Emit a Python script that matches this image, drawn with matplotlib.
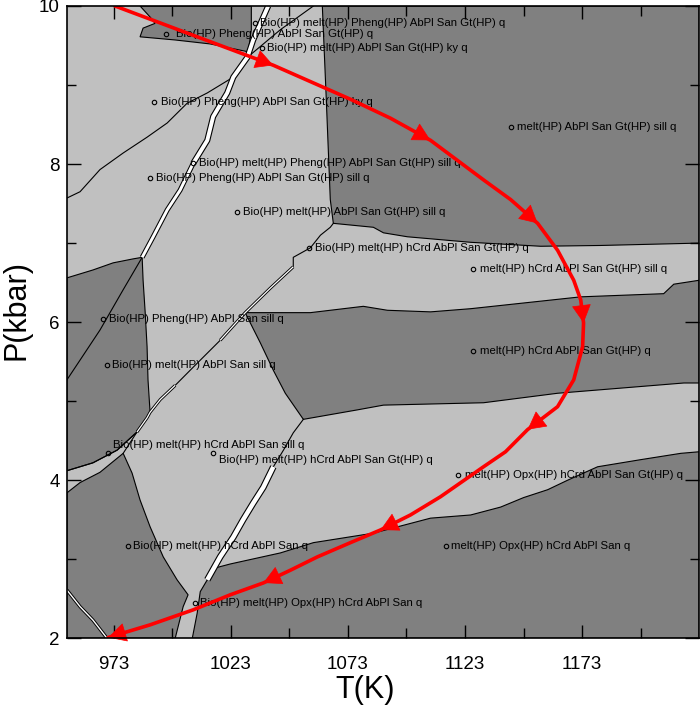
import matplotlib
matplotlib.use("Agg")
import matplotlib.pyplot as plt
from matplotlib.ticker import FixedLocator, NullFormatter

plt.rcParams['font.family'] = ['Liberation Sans', 'DejaVu Sans']

# ---------------- data (T in K, P in kbar) ----------------
T_range = (953, 1223)
P_range = (2, 10)
x_major = [973, 1023, 1073, 1123, 1173]
x_minor = [998, 1048, 1098, 1148, 1198]
y_major = [2, 4, 6, 8, 10]
y_minor = [3, 5, 7, 9]

# dark fields
d1_T = [984.3, 988.6, 990.7, 985.6, 984.3, 999.3, 1014.2, 1030.5, 1031.8, 1031.8]
d1_P = [10.0, 9.86, 9.78, 9.72, 9.61, 9.57, 9.52, 9.42, 9.70, 10.0]

d2_T = [1062.1, 1223, 1223, 1180.9, 1155.3, 1125.4, 1098.4, 1088.2, 1083.9, 1066.8, 1065.5, 1063.8]
d2_P = [10.0, 10.0, 7.00, 6.97, 6.96, 7.01, 7.08, 7.13, 7.20, 7.25, 7.55, 8.81]

d3_T = [1029.2, 1057.0, 1079.6, 1089.9, 1108.3, 1125.4, 1172.4, 1207.8, 1212.1, 1223,
        1223, 1216.4, 1162.5, 1130.9, 1088.2, 1077.1, 1054.0, 1046.3, 1041.2, 1035.6, 1032.2]
d3_P = [6.12, 6.12, 6.20, 6.15, 6.13, 6.17, 6.32, 6.36, 6.48, 6.53,
        5.23, 5.23, 5.10, 4.98, 4.95, 4.89, 4.77, 5.10, 5.39, 5.74, 5.94]

d4_T = [1006.6, 1223, 1223, 1215.1, 1198.0, 1179.6, 1166.8, 1158.3, 1148.0, 1138.2,
        1125.4, 1108.3, 1083.9, 1058.3, 1044.2, 1022.8, 1016.4, 1013.0, 1010.0, 1008.7]
d4_P = [2.0, 2.0, 4.36, 4.34, 4.26, 4.17, 4.00, 3.88, 3.78, 3.66,
        3.56, 3.52, 3.33, 3.21, 3.08, 2.94, 2.89, 2.74, 2.59, 2.32]

d5_T = [953.1, 958.7, 967.2, 977.1, 980.9, 984.3, 988.6, 994.2, 1000.1, 1004.8, 1002.7, 999.3, 953]
d5_P = [3.84, 3.97, 4.10, 4.34, 4.09, 3.75, 3.41, 3.03, 2.74, 2.55, 2.40, 2.0, 2.0]

d6_T = [953.1, 964.2, 972.8, 981.3, 985.2, 985.6, 986.5, 987.3, 987.7, 988.6, 987.3, 983.0, 974.5, 964.2, 953.1]
d6_P = [6.56, 6.66, 6.75, 6.80, 6.82, 6.53, 6.12, 5.69, 5.27, 4.85, 4.79, 4.61, 4.38, 4.22, 4.12]

# boundary lines
lineA_up_T = [1039.0, 1032.6, 1030.1, 1024.1, 1021.5, 1015.5, 1013.0, 1007.0, 1001.4, 995.9, 989.9, 985.2]
lineA_up_P = [10.0, 9.57, 9.35, 9.10, 8.90, 8.60, 8.30, 8.01, 7.67, 7.42, 7.08, 6.82]
lineA_lo_T = [985.2, 977.1, 967.2, 958.7, 953.1]
lineA_lo_P = [6.82, 6.41, 5.90, 5.52, 5.27]

kysill_T = [953.1, 958.7, 967.2, 977.1, 987.3, 995.9, 1004.4, 1013.0, 1024.1]
kysill_P = [7.57, 7.65, 7.93, 8.14, 8.34, 8.52, 8.77, 8.90, 9.10]

top_T = [1031.3, 1044.2, 1058.3]
top_P = [9.38, 9.70, 10.0]

lineB_T = [1066.8, 1065.5, 1061.3, 1057.0, 1049.7, 1049.7, 1039.9, 1029.2, 1018.5, 1007.0,
           999.3, 992.9, 988.6, 987.3, 983.0, 974.5, 964.2, 953.1]
lineB_P = [7.25, 7.20, 7.10, 6.94, 6.82, 6.70, 6.43, 6.12, 5.77, 5.43,
           5.20, 5.02, 4.86, 4.79, 4.61, 4.38, 4.22, 4.12]

lineC_T = [1054.0, 1049.7, 1045.5, 1041.2, 1036.9, 1032.6, 1028.3, 1024.1, 1018.5, 1013.0]
lineC_P = [4.77, 4.60, 4.38, 4.17, 3.91, 3.71, 3.50, 3.28, 3.03, 2.74]

band_T = [977.1, 983.0]
band_P = [4.34, 4.61]

corner_T = [953.1, 958.7, 964.2, 970.2]
corner_P = [2.61, 2.40, 2.23, 2.0]

# P-T path
path_T = [973.6, 1007.8, 1041.2, 1074.1, 1091.2, 1108.3, 1130.9, 1142.5, 1154.0, 1162.5,
          1169.4, 1172.4, 1173.6, 1173.2, 1169.4, 1162.5, 1149.7, 1140.3, 1130.9, 1112.5,
          1099.7, 1086.9, 1074.1, 1060.0, 1048.4, 1036.9, 1022.8, 1007.0, 988.6, 970.7]
path_P = [10.0, 9.62, 9.25, 8.82, 8.58, 8.30, 7.80, 7.55, 7.25, 6.91,
          6.53, 6.28, 5.99, 5.69, 5.27, 4.93, 4.64, 4.36, 4.17, 3.79,
          3.56, 3.37, 3.21, 3.03, 2.86, 2.70, 2.55, 2.36, 2.17, 2.01]
arrow_idx = [2, 5, 8, 12, 16, 21, 25, 29]

# field labels
labels = [
    "Bio(HP) melt(HP) Pheng(HP) AbPl San Gt(HP) q",
    "Bio(HP) Pheng(HP) AbPl San Gt(HP) q",
    "Bio(HP) melt(HP) AbPl San Gt(HP) ky q",
    "Bio(HP) Pheng(HP) AbPl San Gt(HP) ky q",
    "melt(HP) AbPl San Gt(HP) sill q",
    "Bio(HP) melt(HP) Pheng(HP) AbPl San Gt(HP) sill q",
    "Bio(HP) Pheng(HP) AbPl San Gt(HP) sill q",
    "Bio(HP) melt(HP) AbPl San Gt(HP) sill q",
    "Bio(HP) melt(HP) hCrd AbPl San Gt(HP) q",
    "melt(HP) hCrd AbPl San Gt(HP) sill q",
    "Bio(HP) Pheng(HP) AbPl San sill q",
    "Bio(HP) melt(HP) AbPl San sill q",
    "melt(HP) hCrd AbPl San Gt(HP) q",
    "Bio(HP) melt(HP) hCrd AbPl San sill q",
    "Bio(HP) melt(HP) hCrd AbPl San Gt(HP) q",
    "melt(HP) Opx(HP) hCrd AbPl San Gt(HP) q",
    "Bio(HP) melt(HP) hCrd AbPl San q",
    "melt(HP) Opx(HP) hCrd AbPl San q",
    "Bio(HP) melt(HP) Opx(HP) hCrd AbPl San q",
]
mark_T = [1033.5, 995.4, 1036.5, 990.3, 1142.5, 1007.0, 988.6, 1025.8, 1056.6, 1126.6,
          968.5, 970.2, 1126.6, 970.7, 1015.5, 1120.2, 979.2, 1114.7, 1007.8]
mark_P = [9.79, 9.65, 9.47, 8.79, 8.47, 8.01, 7.82, 7.39, 6.94, 6.67,
          6.04, 5.46, 5.64, 4.34, 4.34, 4.07, 3.17, 3.17, 2.45]
text_T = [1035.6, 999.7, 1038.6, 993.3, 1145.1, 1009.6, 991.2, 1028.3, 1059.1, 1129.2,
          971.1, 972.5, 1129.2, 972.9, 1017.8, 1123.2, 981.1, 1117.0, 1010.0]
text_P = [9.79, 9.65, 9.47, 8.79, 8.47, 8.01, 7.82, 7.39, 6.94, 6.67,
          6.04, 5.46, 5.64, 4.45, 4.26, 4.07, 3.17, 3.17, 2.45]

# ---------------- drawing ----------------
LIGHT = '#C0C0C0'
DARK = '#808080'

fig = plt.figure(figsize=(7.0, 7.13), dpi=100)
ax = fig.add_axes([0.0953, 0.1048, 0.9037, 0.8868])
ax.set_xlim(*T_range)
ax.set_ylim(*P_range)
ax.set_facecolor(LIGHT)

for tt, pp in [(d1_T, d1_P), (d2_T, d2_P), (d3_T, d3_P), (d4_T, d4_P), (d5_T, d5_P), (d6_T, d6_P)]:
    ax.fill(tt, pp, facecolor=DARK, edgecolor='black', lw=0.8, zorder=1)

def plain(tt, pp):
    ax.plot(tt, pp, color='black', lw=0.8, zorder=2, solid_joinstyle='round')

def sliver(tt, pp, outer, inner):
    ax.plot(tt, pp, color='black', lw=outer, zorder=2.1, solid_joinstyle='round', solid_capstyle='butt')
    ax.plot(tt, pp, color='white', lw=inner, zorder=2.2, solid_joinstyle='round', solid_capstyle='butt')

sliver(lineA_up_T[:8], lineA_up_P[:8], 4.4, 2.8)
sliver(lineA_up_T[7:], lineA_up_P[7:], 3.6, 2.1)
plain(lineA_lo_T, lineA_lo_P)
plain(kysill_T, kysill_P)
plain(top_T, top_P)
plain(lineB_T, lineB_P)
sliver(lineB_T[5:9], lineB_P[5:9], 2.2, 0.9)
sliver(lineB_T[10:15], lineB_P[10:15], 2.2, 0.9)
plain(lineC_T, lineC_P)
sliver(lineC_T[3:], lineC_P[3:], 4.8, 3.2)
plain(band_T, band_P)
sliver(corner_T, corner_P, 2.4, 1.0)

# labels
for lab, mt, mp, tt, tp in zip(labels, mark_T, mark_P, text_T, text_P):
    ax.plot([mt], [mp], marker='o', ms=3.2, mfc='none', mec='black', mew=0.8, zorder=4)
    ax.text(tt, tp, lab, fontsize=8.2, ha='left', va='center', color='black', zorder=4)

# P-T path
ax.plot(path_T, path_P, color='red', lw=2.6, zorder=6, solid_joinstyle='round', solid_capstyle='round')
for i in arrow_idx:
    ax.annotate('', xy=(path_T[i], path_P[i]), xytext=(path_T[i - 1], path_P[i - 1]),
                arrowprops=dict(arrowstyle='-|>,head_length=0.6,head_width=0.32',
                                fc='red', ec='red', lw=0.5, mutation_scale=20,
                                shrinkA=0, shrinkB=0),
                zorder=7)

# axes styling
ax.xaxis.set_major_locator(FixedLocator(x_major))
ax.xaxis.set_minor_locator(FixedLocator(x_minor))
ax.yaxis.set_major_locator(FixedLocator(y_major))
ax.yaxis.set_minor_locator(FixedLocator(y_minor))
ax.set_xticklabels([str(v) for v in x_major])
ax.set_yticklabels([str(v) for v in y_major])
ax.xaxis.set_minor_formatter(NullFormatter())
ax.yaxis.set_minor_formatter(NullFormatter())
ax.tick_params(axis='x', which='major', direction='in', top=True, bottom=True, length=9.5, width=1.0,
               labelsize=13.5, pad=13)
ax.tick_params(axis='x', which='minor', direction='in', top=True, bottom=True, length=7, width=1.0)
ax.tick_params(axis='y', which='major', direction='in', left=True, right=True, length=10, width=1.0,
               labelsize=13.5, pad=5)
ax.tick_params(axis='y', which='minor', direction='in', left=True, right=True, length=6.5, width=1.0)
for s in ax.spines.values():
    s.set_linewidth(1.2)
    s.set_zorder(8)

fig.text(365 / 700, 1 - 690 / 713, 'T(K)', fontsize=22, ha='center', va='center')
fig.text(17 / 700, 1 - 310 / 713, 'P(kbar)', fontsize=22, ha='center', va='center', rotation=90)

fig.savefig('out.png', dpi=100)
